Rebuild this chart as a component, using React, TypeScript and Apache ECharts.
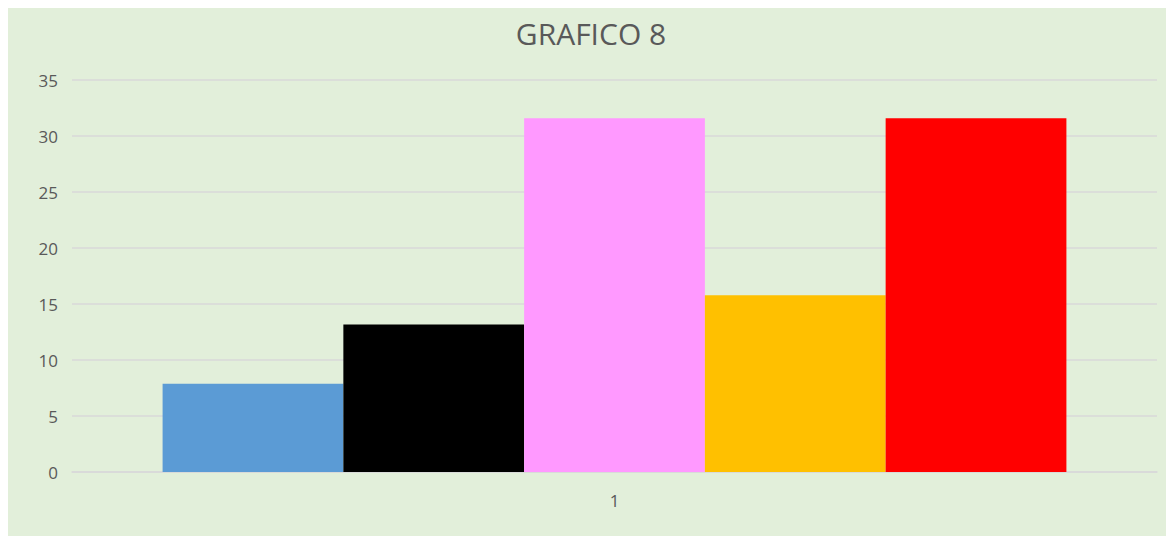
import React, { useEffect, useRef } from "react";
import * as echarts from "echarts";

const categories = ["1"];
const seriesNames = ["Serie 1", "Serie 2", "Serie 3", "Serie 4", "Serie 5"];
const seriesValues = [[7.89], [13.16], [31.58], [15.79], [31.58]];
const seriesColors = ["#5B9BD5", "#000000", "#FF99FF", "#FFC000", "#FF0000"];
const yTicks = { min: 0, max: 35, interval: 5 };

export default function App() {
  const ref = useRef<HTMLDivElement>(null);
  useEffect(() => {
    if (!ref.current) return;
    const chart = echarts.init(ref.current, undefined, { renderer: "svg" });
    chart.setOption({
      animation: false,
      backgroundColor: "#E2EFDA",
      title: {
        text: "GRAFICO 8",
        left: "center",
        top: 5,
        textStyle: { fontFamily: "Open Sans", fontWeight: "normal", fontSize: 30, color: "#595959" },
      },
      grid: { left: 64, right: 17, top: 72, bottom: 64 },
      xAxis: {
        type: "category",
        data: categories,
        axisLine: { lineStyle: { color: "#D9D9D9", width: 1.5 } },
        axisTick: { show: false },
        axisLabel: { color: "#595959", fontFamily: "Open Sans", fontSize: 17, margin: 20 },
      },
      yAxis: {
        type: "value",
        min: yTicks.min,
        max: yTicks.max,
        interval: yTicks.interval,
        axisLine: { show: false },
        axisTick: { show: false },
        splitLine: { lineStyle: { color: "#D9D9D9", width: 1.5 } },
        axisLabel: { color: "#595959", fontFamily: "Open Sans", fontSize: 17, margin: 14, align: "right" },
      },
      series: seriesNames.map((name, i) => ({
        name,
        type: "bar",
        data: seriesValues[i],
        itemStyle: { color: seriesColors[i] },
        barGap: "0%",
        barCategoryGap: "16.7%",
      })),
    });
    return () => chart.dispose();
  }, []);
  return <div ref={ref} style={{ width: 1166, height: 528 }} />;
}
